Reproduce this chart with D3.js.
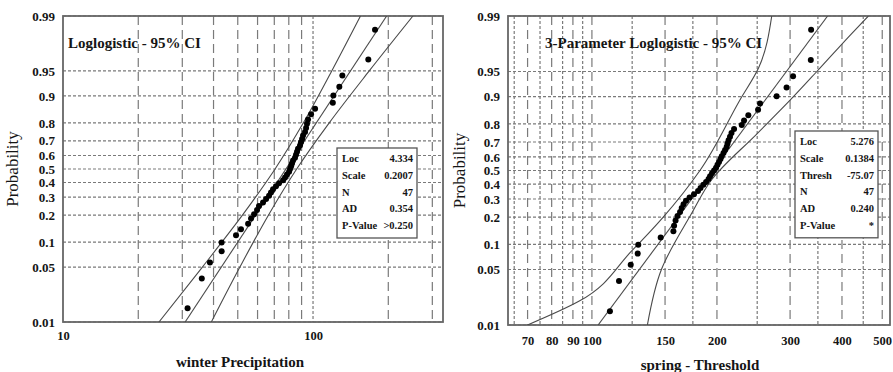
<!DOCTYPE html>
<html>
<head>
<meta charset="utf-8">
<script src="https://cdn.jsdelivr.net/npm/d3@7"></script>
<style>
  body { margin: 0; background: #fff; }
  svg text { font-family: "Liberation Serif", "Times New Roman", serif; fill: #151515; }
</style>
</head>
<body>
<svg id="chart" width="893" height="372"></svg>
<script>
// probability axis (shared by both panels)
var probTicks = [0.01, 0.05, 0.1, 0.2, 0.3, 0.4, 0.5, 0.6, 0.7, 0.8, 0.9, 0.95, 0.99];
var probLabels = ["0.01", "0.05", "0.1", "0.2", "0.3", "0.4", "0.5", "0.6", "0.7", "0.8", "0.9", "0.95", "0.99"];

// plotting positions of the 47 sorted observations
var plotProbs = [0.015, 0.036, 0.057, 0.078, 0.099, 0.120, 0.141, 0.162, 0.184, 0.205,
  0.226, 0.247, 0.268, 0.289, 0.310, 0.331, 0.352, 0.373, 0.395, 0.416,
  0.437, 0.458, 0.479, 0.500, 0.521, 0.542, 0.563, 0.584, 0.605, 0.627,
  0.648, 0.669, 0.690, 0.711, 0.732, 0.753, 0.774, 0.795, 0.816, 0.838,
  0.859, 0.880, 0.901, 0.922, 0.943, 0.964, 0.985];

// left panel: winter precipitation (sorted)
var winterValues = [31.5, 35.9, 38.7, 43.1, 43.1, 49.2, 51.5, 55.0, 56.5, 58.1,
  59.7, 60.8, 63.1, 64.9, 66.7, 67.9, 69.2, 71.1, 73.1, 75.9,
  77.3, 78.7, 80.2, 80.9, 81.7, 82.4, 83.2, 84.7, 85.5, 86.3,
  87.1, 88.7, 89.5, 90.4, 91.2, 92.9, 93.8, 94.6, 95.5, 98.2,
  101.9, 120.0, 120.6, 127.4, 131.0, 166.4, 177.0];
var winterFit = [[0.01, 30.8], [0.99, 197]];
var winterLower = [[0.01, 24.2], [0.05, 36.1], [0.2, 52.2], [0.5, 70.5], [0.8, 91.5], [0.95, 118.8], [0.99, 154.8]];
var winterUpper = [[0.01, 39.2], [0.05, 51.0], [0.2, 66.3], [0.5, 86.0], [0.8, 116.1], [0.95, 167.8], [0.99, 251]];
var winterTicks = [10, 100];
var winterMinor = [20, 30, 40, 50, 60, 70, 80, 90, 200, 300];
var winterLegend = [["Loc", "4.334"], ["Scale", "0.2007"], ["N", "47"], ["AD", "0.354"], ["P-Value", ">0.250"]];

// right panel: spring - threshold (sorted)
var springValues = [110.5, 116.2, 124.0, 128.9, 129.3, 146.4, 157.1, 157.7, 159.0, 160.7,
  163.0, 164.5, 166.2, 168.5, 171.8, 176.1, 180.1, 182.6, 185.5, 188.3,
  190.9, 192.5, 194.6, 196.8, 199.0, 200.6, 202.3, 204.0, 205.4, 207.4,
  209.2, 211.1, 212.1, 213.3, 215.0, 216.8, 219.9, 229.5, 232.4, 238.0,
  251.2, 254.0, 278.4, 294.2, 305.0, 336.5, 337.1];
var springFit = [[0.01, 103.5], [0.99, 369.4]];
var springLower = [[0.01, 70], [0.02, 93], [0.085, 125], [0.2, 148.5], [0.5, 182], [0.89, 227], [0.955, 252], [0.99, 271]];
var springUpper = [[0.01, 136], [0.05, 147], [0.22, 174], [0.43, 194], [0.75, 250], [0.89, 300], [0.95, 348], [0.983, 421], [0.99, 463]];
var springTicks = [70, 80, 90, 100, 150, 200, 300, 400, 500];
var springMinor = [65, 75, 85, 95, 125, 175, 250, 350, 450];
var springLegend = [["Loc", "5.276"], ["Scale", "0.1384"], ["Thresh", "-75.07"], ["N", "47"], ["AD", "0.240"], ["P-Value", "*"]];

var svg = d3.select("#chart");

function logit(p) {
    return Math.log(p / (1 - p));
}

function drawPanel(o) {
    var g = svg.append("g");
    var x = d3.scaleLog().domain(o.xDomain).range([o.x0, o.x1]);
    var y = d3.scaleLinear().domain([logit(0.01), logit(0.99)]).range([o.y1, o.y0]);

    // horizontal dotted grid
    g.selectAll(".hgrid").data(probTicks).enter().append("line")
        .attr("x1", o.x0).attr("x2", o.x1)
        .attr("y1", function(d) { return y(logit(d)); })
        .attr("y2", function(d) { return y(logit(d)); })
        .attr("stroke", "#7a7a7a").attr("stroke-width", 1.2)
        .attr("stroke-dasharray", "3,2");

    // vertical grid
    g.selectAll(".vmin").data(o.minor).enter().append("line")
        .attr("x1", function(d) { return x(d); }).attr("x2", function(d) { return x(d); })
        .attr("y1", o.y0).attr("y2", o.y1)
        .attr("stroke", "#7a7a7a").attr("stroke-width", 1.2)
        .attr("stroke-dasharray", o.minorDash);
    g.selectAll(".vmaj").data(o.ticks.filter(function(d) { return x(d) > o.x0 + 2 && x(d) < o.x1 - 2; }))
        .enter().append("line")
        .attr("x1", function(d) { return x(d); }).attr("x2", function(d) { return x(d); })
        .attr("y1", o.y0).attr("y2", o.y1)
        .attr("stroke", "#7a7a7a").attr("stroke-width", 1.2)
        .attr("stroke-dasharray", o.majorDash);

    // frame
    g.append("rect").attr("x", o.x0).attr("y", o.y0)
        .attr("width", o.x1 - o.x0).attr("height", o.y1 - o.y0)
        .attr("fill", "none").attr("stroke", "#666").attr("stroke-width", 1.8);

    // title
    g.append("text").attr("x", o.titleX).attr("y", o.titleY)
        .attr("font-size", 15).attr("font-weight", "bold").text(o.title);

    // fit and confidence lines
    var clipId = "clip" + o.id;
    g.append("clipPath").attr("id", clipId).append("rect")
        .attr("x", o.x0).attr("y", o.y0).attr("width", o.x1 - o.x0).attr("height", o.y1 - o.y0);
    var line = d3.line()
        .x(function(d) { return x(d[1]); })
        .y(function(d) { return y(logit(d[0])); })
        .curve(d3.curveMonotoneY);
    [o.fit, o.lower, o.upper].forEach(function(pts) {
        g.append("path").datum(pts).attr("d", line)
            .attr("clip-path", "url(#" + clipId + ")")
            .attr("fill", "none").attr("stroke", "#4a4a4a").attr("stroke-width", 1.1);
    });

    // observations
    g.selectAll(".pt").data(o.values).enter().append("circle")
        .attr("cx", function(d) { return x(d); })
        .attr("cy", function(d, i) { return y(logit(plotProbs[i])); })
        .attr("r", 3).attr("fill", "#000");

    // legend box
    var lg = g.append("g");
    lg.append("rect").attr("x", o.lx).attr("y", o.ly).attr("width", o.lw)
        .attr("height", o.legend.length * 16.8 + 6)
        .attr("fill", "#fff").attr("stroke", "#555").attr("stroke-width", 1.3);
    o.legend.forEach(function(r, i) {
        var ty = o.ly + 14 + i * 16.8;
        lg.append("text").attr("x", o.lx + 5).attr("y", ty)
            .attr("font-size", 10.5).attr("font-weight", "bold").text(r[0]);
        lg.append("text").attr("x", o.lx + o.lw - 4).attr("y", ty)
            .attr("text-anchor", "end").attr("font-size", 10.5).attr("font-weight", "bold").text(r[1]);
    });

    // axes
    var yAxis = d3.axisLeft(y)
        .tickValues(probTicks.map(logit))
        .tickFormat(function(d, i) { return probLabels[i]; })
        .tickSize(0).tickPadding(8);
    var ya = g.append("g").attr("transform", "translate(" + o.x0 + ",0)").call(yAxis);
    ya.select(".domain").remove();
    ya.selectAll("text").attr("font-size", 13).attr("font-weight", "bold")
        .attr("font-family", "Liberation Serif, serif").attr("fill", "#151515");

    var xAxis = d3.axisBottom(x).tickValues(o.ticks)
        .tickFormat(function(d) { return d; })
        .tickSize(0).tickPadding(o.xPad);
    var xa = g.append("g").attr("transform", "translate(0," + o.y1 + ")").call(xAxis);
    xa.select(".domain").remove();
    xa.selectAll("text").attr("font-size", 12.5).attr("font-weight", "bold")
        .attr("font-family", "Liberation Serif, serif").attr("fill", "#151515");

    g.append("text").attr("x", o.xTitleX).attr("y", o.xTitleY)
        .attr("text-anchor", "middle").attr("font-size", 15).attr("font-weight", "bold")
        .text(o.xTitle);
    g.append("text")
        .attr("transform", "translate(" + o.yTitleX + "," + ((o.y0 + o.y1) / 2) + ") rotate(-90)")
        .attr("text-anchor", "middle").attr("font-size", 17).text("Probability");
}

drawPanel({
    id: "L", x0: 63, x1: 443, y0: 16, y1: 322, xDomain: [10, 331],
    ticks: winterTicks, minor: winterMinor, minorDash: "9,5", majorDash: "3,2",
    values: winterValues, fit: winterFit, lower: winterLower, upper: winterUpper,
    title: "Loglogistic - 95% CI", titleX: 68, titleY: 48,
    legend: winterLegend, lx: 337, ly: 148, lw: 80,
    xPad: 9, xTitle: "winter Precipitation", xTitleX: 240, xTitleY: 367, yTitleX: 18
});

drawPanel({
    id: "R", x0: 508, x1: 890, y0: 16, y1: 325, xDomain: [62.8, 522],
    ticks: springTicks, minor: springMinor, minorDash: "3,2", majorDash: "9,5",
    values: springValues, fit: springFit, lower: springLower, upper: springUpper,
    title: "3-Parameter Loglogistic - 95% CI", titleX: 545, titleY: 48,
    legend: springLegend, lx: 795, ly: 131, lw: 83,
    xPad: 11, xTitle: "spring - Threshold", xTitleX: 700, xTitleY: 370, yTitleX: 465
});
</script>
</body>
</html>
